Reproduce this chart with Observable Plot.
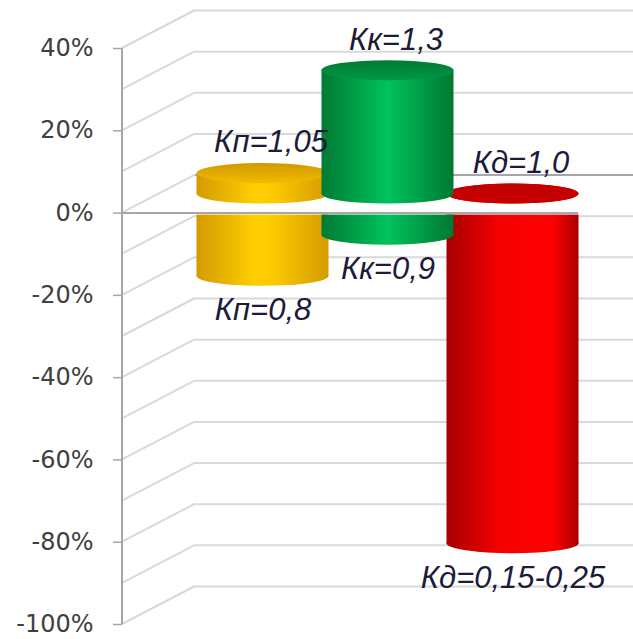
<!DOCTYPE html>
<html>
<head>
<meta charset="utf-8">
<script src="https://cdn.jsdelivr.net/npm/d3@7"></script>
<script src="https://cdn.jsdelivr.net/npm/@observablehq/plot@0.6"></script>
<style>
  html, body { margin: 0; padding: 0; background: #fff; }
</style>
</head>
<body>
<div id="chart"></div>
<script>
// Coefficients: upper and lower bound for each indicator
const categories = ["Кп", "Кк", "Кд"];
const upperK = [1.05, 1.3, 1.0];
const lowerK = [0.8, 0.9, 0.15];
const upperText = ["1,05", "1,3", "1,0"];
const lowerText = ["0,8", "0,9", "0,15-0,25"];
const yTicks = [40, 20, 0, -20, -40, -60, -80, -100];
const gridLines = d3.range(-100, 41, 10);

// Colours of the cylinders (side gradient stops and top cap)
const seriesStyle = [
  {id: "p", side: [[0, "#d39b00"], [0.45, "#ffcf00"], [0.6, "#fcc800"], [1, "#d49c00"]], top: [[0, "#d19a00"], [1, "#f2bb00"]]},
  {id: "k", side: [[0, "#007a34"], [0.5, "#00c35c"], [1, "#007833"]], top: [[0, "#007a35"], [1, "#009844"]]},
  {id: "d", side: [[0, "#a60000"], [0.4, "#f50000"], [0.8, "#ff0000"], [1, "#a80000"]], top: [[0, "#c00000"], [1, "#c80000"]]}
];

// Oblique projection of the depth axis (pixels)
const DEPTH_X = 73, DEPTH_Y = 38;
const HALF = DEPTH_Y / 2;   // cylinders stand at mid depth
const RY = 10;              // vertical radius of the elliptical caps

const rows = categories.map((cat, i) => ({
  cat,
  id: seriesStyle[i].id,
  up: Math.round((upperK[i] - 1) * 100),
  down: Math.round((lowerK[i] - 1) * 100),
  upText: `${cat}=${upperText[i]}`,
  downText: `${cat}=${lowerText[i]}`
}));

function gradients() {
  const defs = d3.create("svg:defs");
  for (const s of seriesStyle) {
    const side = defs.append("linearGradient").attr("id", "side-" + s.id)
      .attr("x1", 0).attr("x2", 1).attr("y1", 0).attr("y2", 0);
    s.side.forEach(([o, c]) => side.append("stop").attr("offset", o).attr("stop-color", c));
    const top = defs.append("linearGradient").attr("id", "top-" + s.id)
      .attr("x1", 0).attr("x2", 0).attr("y1", 0).attr("y2", 1);
    s.top.forEach(([o, c]) => top.append("stop").attr("offset", o).attr("stop-color", c));
  }
  return defs.node();
}

// Diagonal gridlines joining the front axis to the back wall
function depthGrid(index, scales, values, dimensions) {
  const y = scales.y, x0 = dimensions.marginLeft;
  const g = d3.create("svg:g");
  g.selectAll("line").data(gridLines).join("line")
    .attr("x1", x0).attr("y1", d => y(d))
    .attr("x2", x0 + DEPTH_X).attr("y2", d => y(d) - DEPTH_Y)
    .attr("stroke", "#d9d9d9").attr("stroke-width", 2);
  return g.node();
}

function axisLine(index, scales, values, dimensions) {
  const y = scales.y, x0 = dimensions.marginLeft;
  const [lo, hi] = d3.extent(yTicks);
  return d3.create("svg:line")
    .attr("x1", x0).attr("x2", x0).attr("y1", y(hi)).attr("y2", y(lo))
    .attr("stroke", "#a6a6a6").attr("stroke-width", 2).node();
}

function cylinder(row) {
  const d = [row];
  const side = `url(#side-${row.id})`, top = `url(#top-${row.id})`;
  const common = {x: "cat", dy: -HALF, insetLeft: -3.5, insetRight: -3.5};
  const cap = {...common, rx: 80, ry: RY, insetTop: -RY, insetBottom: -RY};
  return [
    // part below zero
    Plot.barY(d, {...common, y1: 0, y2: "down", insetTop: HALF + 2, fill: side}),
    Plot.barY(d, {...cap, y1: "down", y2: "down", fill: side}),
    // part above zero
    Plot.barY(d, {...cap, y1: 0, y2: 0, fill: side}),
    Plot.barY(d, {...common, y1: 0, y2: "up", fill: side}),
    Plot.barY(d, {...cap, y1: "up", y2: "up", fill: top})
  ];
}

const labelStyle = {
  x: "cat",
  fontFamily: "'Liberation Sans', Arial, sans-serif",
  fontStyle: "italic",
  fontSize: 31,
  fill: "#1c1c3a"
};

const drawOrder = [0, 2, 1];

const chart = Plot.plot({
  width: 633,
  height: 639,
  marginLeft: 122,
  marginRight: 0,
  marginTop: 48,
  marginBottom: 15,
  style: {background: "#fff", fontFamily: "'DejaVu Sans', sans-serif"},
  x: {type: "band", domain: categories, range: [199.5, 574.5], padding: 0, axis: null},
  y: {domain: [-100, 40], label: null},
  marks: [
    gradients,
    Plot.ruleY(gridLines, {dy: -DEPTH_Y, insetLeft: DEPTH_X, stroke: "#d9d9d9", strokeWidth: 2}),
    Plot.ruleY([0], {dy: -DEPTH_Y, insetLeft: DEPTH_X, stroke: "#a6a6a6", strokeWidth: 2}),
    depthGrid,
    Plot.ruleY([0], {insetRight: 55, stroke: "#a6a6a6", strokeWidth: 2}),
    axisLine,
    Plot.axisY(yTicks, {tickSize: 9, tickFormat: () => "", stroke: "#a6a6a6", strokeWidth: 1.5}),
    Plot.axisY(yTicks, {
      tickSize: 0, tickPadding: 29, dy: 0,
      tickFormat: d => d + "%",
      fontSize: 24, fontFamily: "'DejaVu Sans', sans-serif", fill: "#404040"
    }),
    ...drawOrder.flatMap(i => cylinder(rows[i])),
    Plot.text(rows, {...labelStyle, y: "up", text: "upText", dy: -50, dx: 8}),
    Plot.text(rows, {...labelStyle, y: "down", text: "downText", dy: 15})
  ]
});

document.getElementById("chart").appendChild(chart);
</script>
</body>
</html>
